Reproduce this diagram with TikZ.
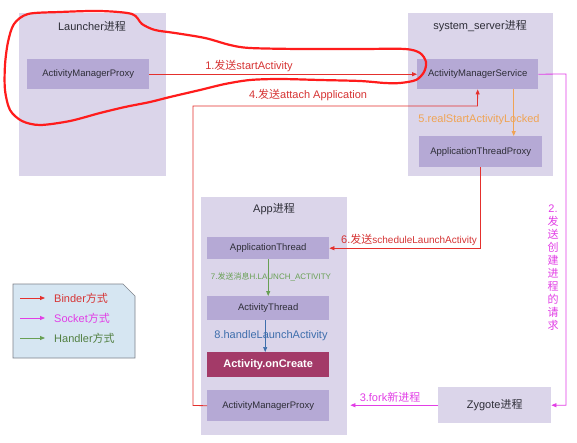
\documentclass[tikz,border=0pt]{standalone}
\usepackage{fontspec}
\setmainfont{Liberation Sans}
\newfontfamily\cjk{Noto Sans CJK SC}
\usetikzlibrary{arrows.meta}
\newcommand\zh[1]{{\cjk #1}}
\definecolor{procfill}{RGB}{219,213,234}
\definecolor{innerfill}{RGB}{181,169,213}
\definecolor{oncreate}{RGB}{163,58,104}
\definecolor{redA}{RGB}{228,48,45}
\definecolor{redT}{RGB}{214,52,52}
\definecolor{magA}{RGB}{226,62,230}
\definecolor{grnA}{RGB}{104,160,84}
\definecolor{bluA}{RGB}{62,110,172}
\definecolor{orgA}{RGB}{240,164,84}
\definecolor{legfill}{RGB}{214,230,242}
\definecolor{leggray}{RGB}{125,130,138}
\definecolor{txtC}{RGB}{45,45,55}
\definecolor{loopC}{RGB}{255,28,28}
\begin{document}
\begin{tikzpicture}[x=1pt,y=-1pt,
  proc/.style={fill=procfill, draw=none, anchor=north west, inner sep=0pt},
  innerbox/.style={fill=innerfill, anchor=north west, inner sep=0pt, text=txtC, font=\fontsize{9.5}{11}\selectfont},
  ttl/.style={font=\fontsize{11}{13}\selectfont, text=txtC, inner sep=0pt},
  lbl/.style={font=\fontsize{11}{13}\selectfont, inner sep=0pt},
  arr/.style={line width=0.8pt, -{Triangle[length=5pt,width=4pt]}},
]
\fill[white] (0,0) rectangle (577,442);
\useasboundingbox (0,0) rectangle (577,442);

% process boxes
\node[proc, minimum width=147pt, minimum height=163pt] (launcher) at (19,13) {};
\node[ttl] (launchert) at (92,26) {Launcher\zh{进程}};
\node[innerbox, minimum width=122pt, minimum height=30pt] (amp1) at (27,59) {ActivityManagerProxy};

\node[proc, minimum width=145pt, minimum height=163pt] (ss) at (408,13) {};
\node[ttl] (sst) at (480,26) {system\_server\zh{进程}};
\node[innerbox, minimum width=121pt, minimum height=30pt] (ams) at (417,59) {ActivityManagerService};
\node[innerbox, minimum width=123pt, minimum height=31pt] (atp) at (419,136) {ApplicationThreadProxy};

\node[proc, minimum width=146pt, minimum height=238pt] (app) at (201,197) {};
\node[ttl] (appt) at (274,209) {App\zh{进程}};
\node[innerbox, minimum width=122pt, minimum height=22pt] (apth) at (207,237) {ApplicationThread};
\node[innerbox, minimum width=122pt, minimum height=24pt] (actt) at (207,296) {ActivityThread};
\node[anchor=north west, inner sep=0pt, fill=oncreate, text=white, minimum width=122pt, minimum height=25pt, font=\fontsize{11}{13}\selectfont\bfseries] (onc) at (207,352) {Activity.onCreate};
\node[innerbox, minimum width=122pt, minimum height=31pt] (amp2) at (207,390) {ActivityManagerProxy};

\node[proc, minimum width=113pt, minimum height=36pt, text=txtC, font=\fontsize{11}{13}\selectfont] (zyg) at (438,387) {Zygote\zh{进程}};

% connectors
\draw[arr, draw=redA] (amp1.east) -- (ams.west);
\node[lbl, text=redT] (l1) at (249,66) {1.\zh{发送}startActivity};

\coordinate (c4) at (193,106);
\coordinate (c4b) at (193,405.5);
\coordinate (c4c) at (477.5,106);
\draw[arr, draw=redA] (amp2.west) -- (c4b) -- (c4) -- (c4c) -- (ams.south);
\node[lbl, text=redT] (l4) at (308,95) {4.\zh{发送}attach Application};

\draw[arr, draw=orgA] ([xshift=36pt]ams.south) -- ([xshift=36pt]ams.south |- atp.north);
\node[lbl, text=orgA] (l5) at (479,120) {5.realStartActivityLocked};

\draw[arr, draw=redA] (atp.south) |- (apth.east);
\node[anchor=base west, inner sep=0pt, text=redT] (l6) at (341,243) {\fontsize{11}{13}\selectfont 6.\zh{发送}\fontsize{10}{12}\selectfont scheduleLaunchActivity};

\draw[arr, draw=grnA] (apth.south) -- (actt.north);
\node[inner sep=0pt, text=grnA, font=\fontsize{8}{10}\selectfont] (l7) at (271,277) {7.\zh{发送消息}H.LAUNCH\_ACTIVITY};

\draw[arr, draw=bluA, line width=0.6pt] ([xshift=-3pt]actt.south) -- ([xshift=-3pt]onc.north);
\node[lbl, text=bluA] (l8) at (271,336) {8.handleLaunchActivity};

\coordinate (c2) at (566,74);
\draw[arr, draw=magA] (ams.east) -- (c2) |- (zyg.east);
\node[lbl, text=magA, align=center, font=\fontsize{11}{13}\selectfont] (l2) at (553,268) {2.\\\zh{发}\\\zh{送}\\\zh{创}\\\zh{建}\\\zh{进}\\\zh{程}\\\zh{的}\\\zh{请}\\\zh{求}};

\draw[arr, draw=magA] (zyg.west) -- ([xshift=3pt]app.east |- zyg.west);
\node[lbl, text=magA] (l3) at (390,397) {3.fork\zh{新进程}};

% legend
\draw[fill=legfill, draw=leggray, line width=0.6pt] (13,284) -- (123,284) -- (135,296) -- (135,358) -- (13,358) -- cycle;
\coordinate (la1) at (20,298); \coordinate (lb1) at (45,298);
\coordinate (la2) at (20,318); \coordinate (lb2) at (45,318);
\coordinate (la3) at (20,338); \coordinate (lb3) at (45,338);
\draw[arr, draw=redA] (la1) -- (lb1);
\draw[arr, draw=magA] (la2) -- (lb2);
\draw[arr, draw=grnA] (la3) -- (lb3);
\node[lbl, anchor=west, text=redT] (t1) at (54,298) {Binder\zh{方式}};
\node[lbl, anchor=west, text=magA] (t2) at (54,318) {Socket\zh{方式}};
\node[lbl, anchor=west, text=grnA!80!black] (t3) at (54,338) {Handler\zh{方式}};

% hand-drawn loop
\draw[draw=loopC, line width=2.2pt, line join=round] plot[smooth cycle, tension=0.5] coordinates {
(28,14) (60,12) (100,11) (132,14) (142,24) (155,30) (175,33) (205,38) (230,45) (250,48) (300,49) (360,49) (405,49) (420,53) (426,62) (424,72) (416,80) (400,83) (385,83) (360,81) (320,80) (280,79) (250,80) (225,84) (200,90) (170,97) (150,102) (125,107) (100,113) (70,121) (40,125) (22,121) (10,110) (5,90) (5,65) (8,42) (14,24)};
\end{tikzpicture}
\end{document}
